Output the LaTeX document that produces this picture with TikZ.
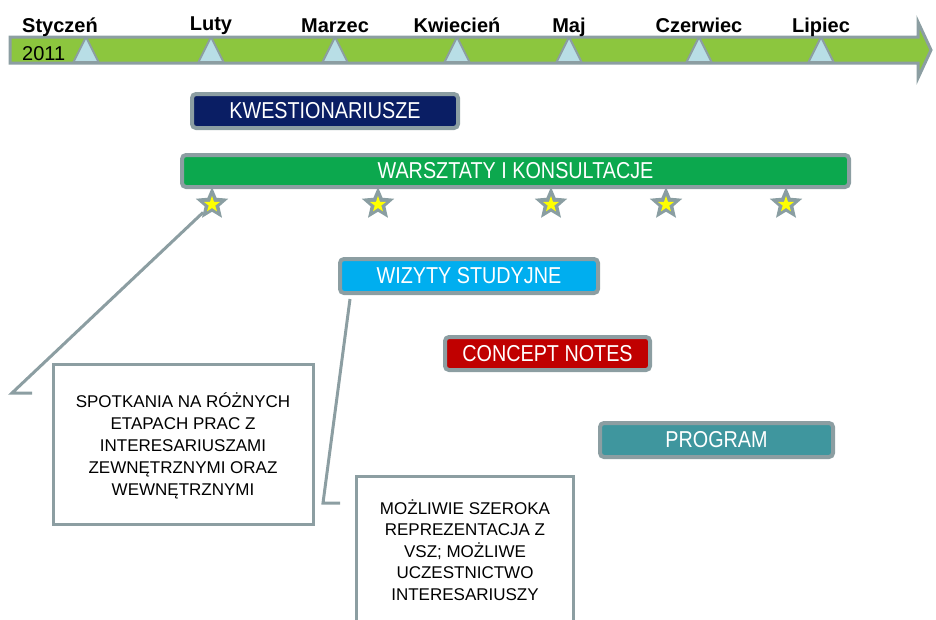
\documentclass[tikz,border=0pt]{standalone}
\usepackage{fontspec}
\setmainfont{Liberation Sans}
\newfontfamily\boxfont[FakeStretch=0.86]{Liberation Sans}
\usetikzlibrary{shapes.geometric}
\definecolor{bordergray}{RGB}{140,158,162}
\definecolor{tlgreen}{RGB}{140,198,62}
\definecolor{trifill}{RGB}{184,222,230}
\definecolor{navybox}{RGB}{10,30,100}
\definecolor{greenbox}{RGB}{12,168,78}
\definecolor{cyanbox}{RGB}{0,174,239}
\definecolor{redbox}{RGB}{192,0,0}
\definecolor{tealbox}{RGB}{63,150,158}
\definecolor{stargray}{RGB}{138,158,162}
\definecolor{staryellow}{RGB}{255,255,0}
\tikzset{
  month/.style={anchor=base, inner sep=0pt, font=\fontsize{20}{24}\selectfont\bfseries},
  phase/.style={draw=bordergray, line width=4pt, rounded corners=4pt, inner sep=0pt,
    text=white, font=\boxfont\fontsize{23}{27}\selectfont},
  gstar/.style={star, star points=5, star point ratio=2.2, fill=stargray, draw=none,
    inner sep=0pt, minimum size=34pt},
  ystar/.style={star, star points=5, star point ratio=2.5, fill=staryellow, draw=none,
    inner sep=0pt, minimum size=17pt},
  callout/.style={draw=bordergray, line width=3pt, fill=white, inner sep=0pt},
  callouttext/.style={align=center, inner sep=0pt, font=\fontsize{17}{22}\selectfont},
  ptr/.style={draw=bordergray, line width=3pt},
  tri/.style={fill=trifill, draw=bordergray, line width=2pt, line join=round}
}
\begin{document}
\begin{tikzpicture}[x=1pt,y=-1pt]
\useasboundingbox (0,0) rectangle (936,619);
\clip (0,0) rectangle (936,619);
% timeline arrow
\draw[fill=tlgreen, draw=bordergray, line width=3pt, line join=miter]
  (10,37) -- (918,37) -- (918,22) -- (931,50) -- (918,78) -- (918,63) -- (10,63) -- cycle;
\foreach \x in {86,211,335,457,569,699,821}{
  \draw[tri] (\x,37) -- (\x+12.5,62) -- (\x-12.5,62) -- cycle;
}
\node[anchor=base west, inner sep=0pt, font=\fontsize{20}{24}\selectfont] (yr) at (22,60) {2011};
\node[month] (m1) at (60,32) {Styczeń};
\node[month] (m2) at (211,30) {Luty};
\node[month] (m3) at (335,32) {Marzec};
\node[month] (m4) at (457,32) {Kwiecień};
\node[month] (m5) at (569,32) {Maj};
\node[month] (m6) at (699,32) {Czerwiec};
\node[month] (m7) at (821,32) {Lipiec};
% phase boxes
\node[phase, fill=navybox, minimum width=266pt, minimum height=34pt] (kw) at (325,111) {KWESTIONARIUSZE};
\node[phase, fill=greenbox, minimum width=667pt, minimum height=32pt] (wa) at (515.5,171) {WARSZTATY I KONSULTACJE};
\node[phase, fill=cyanbox, minimum width=258pt, minimum height=34pt] (wi) at (469,276) {WIZYTY STUDYJNE};
\node[phase, fill=redbox, minimum width=205pt, minimum height=33pt] (cn) at (547.5,353.5) {CONCEPT NOTES};
\node[phase, fill=tealbox, minimum width=233pt, minimum height=34pt] (pr) at (716.5,440) {PROGRAM};
% stars
\foreach \i/\x in {1/212,2/378,3/551,4/666,5/786}{
  \node[gstar] (s\i) at (\x,204) {};
  \node[ystar] (y\i) at (\x,204.5) {};
}
% callout boxes
\node[callout, minimum width=260pt, minimum height=160pt] (c1) at (183.5,444.5) {};
\node[callouttext] (c1t) at (183,446) {SPOTKANIA NA RÓŻNYCH\\ETAPACH PRAC Z\\INTERESARIUSZAMI\\ZEWNĘTRZNYMI ORAZ\\WEWNĘTRZNYMI};
\node[callout, minimum width=217pt, minimum height=170pt] (c2) at (465,561.5) {};
\node[callouttext, font=\fontsize{17}{21.5}\selectfont] (c2t) at (465,550) {MOŻLIWIE SZEROKA\\REPREZENTACJA Z\\VSZ; MOŻLIWE\\UCZESTNICTWO\\INTERESARIUSZY};
% pointers
\coordinate (p1) at (12,393);
\coordinate (p1e) at (32,393);
\draw[ptr] (s1) -- (p1) -- (p1e);
\coordinate (q1) at (323,503);
\coordinate (q1e) at (340,503);
\draw[ptr] ([xshift=12pt,yshift=-4pt]wi.south west) -- (q1) -- (q1e);
\end{tikzpicture}
\end{document}
